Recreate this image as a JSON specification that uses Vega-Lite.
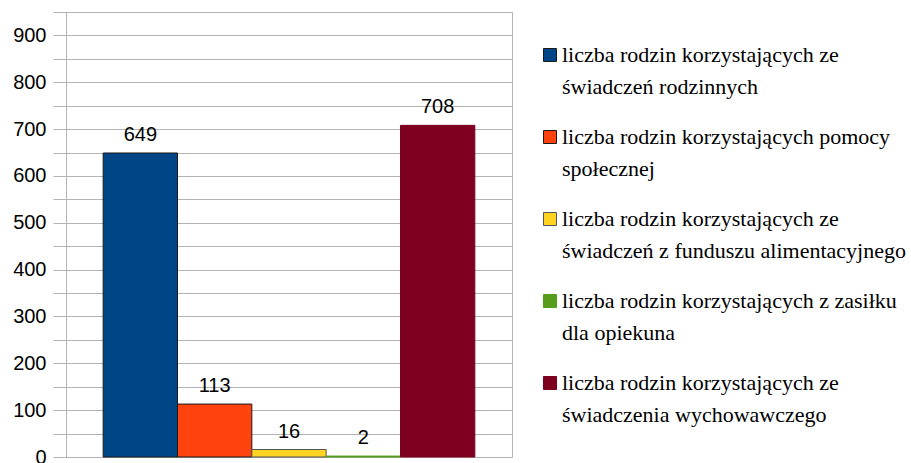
{
  "$schema": "https://vega.github.io/schema/vega-lite/v6.json",
  "autosize": {"type": "none"},
  "width": 446,
  "height": 445,
  "padding": {"left": 66, "top": 12, "right": 399, "bottom": 6},
  "background": "white",
  "config": {
    "view": {"stroke": "#b3b3b3", "strokeWidth": 1}
  },
  "data": {
    "values": [
      {"label": "liczba rodzin korzystających ze\nświadczeń rodzinnych", "value": 649},
      {"label": "liczba rodzin korzystających pomocy\nspołecznej", "value": 113},
      {"label": "liczba rodzin korzystających ze\nświadczeń z funduszu alimentacyjnego", "value": 16},
      {"label": "liczba rodzin korzystających z zasiłku\ndla opiekuna", "value": 2},
      {"label": "liczba rodzin korzystających ze\nświadczenia wychowawczego", "value": 708}
    ]
  },
  "encoding": {
    "x": {
      "field": "label",
      "type": "nominal",
      "sort": null,
      "axis": null,
      "scale": {"paddingInner": 0, "paddingOuter": 0.5}
    },
    "y": {
      "field": "value",
      "type": "quantitative",
      "scale": {"domain": [0, 950], "nice": false},
      "axis": {
        "title": null,
        "values": [0, 50, 100, 150, 200, 250, 300, 350, 400, 450, 500, 550, 600, 650, 700, 750, 800, 850, 900, 950],
        "labelExpr": "datum.value % 100 == 0 ? datum.label : ''",
        "grid": true,
        "gridColor": "#b3b3b3",
        "domainColor": "#b3b3b3",
        "tickColor": "#b3b3b3",
        "tickSize": 13,
        "labelPadding": 7,
        "labelFont": "Liberation Sans",
        "labelFontSize": 20,
        "labelColor": "#000000",
        "labelFlush": false,
        "labelOverlap": false
      }
    }
  },
  "layer": [
    {
      "mark": {"type": "bar", "strokeWidth": 1},
      "encoding": {
        "color": {
          "field": "label",
          "type": "nominal",
          "sort": null,
          "scale": {"range": ["#004586", "#ff420e", "#ffd320", "#579d1c", "#7e0021"]},
          "legend": {
            "title": null,
            "orient": "none",
            "legendX": 473,
            "legendY": 32,
            "symbolType": "square",
            "symbolSize": 169,
            "symbolStrokeWidth": 1,
            "labelFont": "Liberation Serif",
            "labelFontSize": 22,
            "labelColor": "#000000",
            "labelLimit": 500,
            "labelOffset": 1,
            "labelBaseline": "middle",
            "labelExpr": "split(datum.label, '\\n')",
            "rowPadding": 28,
            "encode": {
              "labels": {"update": {"lineHeight": {"value": 32}}}
            }
          }
        },
        "stroke": {
          "field": "label",
          "type": "nominal",
          "sort": null,
          "scale": {"range": ["#1a1a1a", "#1a1a1a", "#555555", "#579d1c", "#7e0021"]},
          "legend": null
        }
      }
    },
    {
      "mark": {"type": "text", "font": "Liberation Sans", "fontSize": 20, "baseline": "alphabetic", "dy": -12, "color": "#000000"},
      "encoding": {
        "text": {"field": "value", "type": "quantitative"}
      }
    }
  ]
}
